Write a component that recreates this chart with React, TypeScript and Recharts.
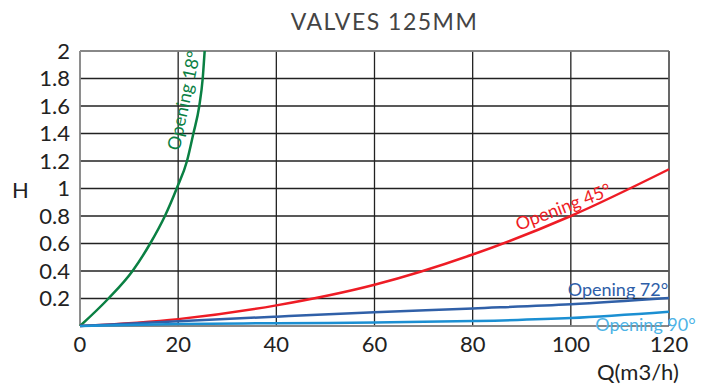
import { LineChart, Line, XAxis, YAxis, CartesianGrid, ReferenceDot, ReferenceLine } from "recharts";

const flowTicks = [0, 20, 40, 60, 80, 100, 120];
const headTicks = [0, 0.2, 0.4, 0.6, 0.8, 1, 1.2, 1.4, 1.6, 1.8, 2];

const q18 = [0, 5.8, 10.7, 14.3, 17.3, 19.7, 21.8, 23.1, 24.3, 25.0, 25.4];
const h18 = [0, 0.2, 0.4, 0.6, 0.8, 1.0, 1.2, 1.4, 1.6, 1.8, 2.0];

const qCommon = [0, 20, 40, 60, 80, 100, 120];
const h45 = [0, 0.05, 0.15, 0.3, 0.52, 0.8, 1.14];
const h72 = [0, 0.035, 0.068, 0.1, 0.128, 0.158, 0.204];
const h90 = [0, 0.015, 0.02, 0.025, 0.036, 0.058, 0.104];

const toPts = (qs: number[], hs: number[]) => qs.map((q, i) => ({ q, h: hs[i] }));

const FONT = "Lato, 'Open Sans', sans-serif";

function RotLabel({ viewBox, text, color, angle }: any) {
  const x = viewBox.x + (viewBox.width || 0) / 2;
  const y = viewBox.y + (viewBox.height || 0) / 2;
  return (
    <text x={x} y={y} fill={color} fontSize={18} fontFamily={FONT} textAnchor="middle" dominantBaseline="central" transform={`rotate(${angle} ${x} ${y})`}>
      {text}
    </text>
  );
}

export default function App() {
  return (
    <div style={{ position: "fixed", left: 0, top: 0, width: 701, height: 392, background: "#fff" }}>
      <div style={{ position: "absolute", left: 34, width: 701, top: 7, textAlign: "center", fontFamily: FONT, fontSize: 23, color: "#444", letterSpacing: 1.5 }}>
        VALVES 125MM
      </div>
      <div style={{ position: "absolute", left: 12, top: 176, fontFamily: FONT, fontSize: 22, color: "#222" }}>H</div>
      <div style={{ position: "absolute", left: 597, top: 358, fontFamily: FONT, fontSize: 22, color: "#222" }}>Q(m3/h)</div>
      <LineChart width={701} height={392} margin={{ top: 51, right: 32, bottom: 36, left: 0 }}>
        <CartesianGrid stroke="#222" strokeWidth={1.3} />
        <XAxis type="number" dataKey="q" domain={[0, 120]} ticks={flowTicks} interval={0} axisLine={false} tickLine={false} height={30}
          tick={{ fill: "#222", fontSize: 22, fontFamily: FONT }} tickMargin={4} allowDuplicatedCategory={false} />
        <YAxis type="number" dataKey="h" domain={[0, 2]} ticks={headTicks} interval={0} axisLine={false} tickLine={false} width={80}
          tickFormatter={(v: number) => (v === 0 ? "" : String(v))} tick={{ fill: "#222", fontSize: 22, fontFamily: FONT }} tickMargin={4} />
        <ReferenceLine x={0} stroke="#999" strokeWidth={1.5} />
        <ReferenceLine y={2} stroke="#999" strokeWidth={1.5} />
        <ReferenceLine y={0} stroke="#999" strokeWidth={1.5} />
        <ReferenceLine x={120} stroke="#666" strokeWidth={1.5} />
        <Line data={toPts(q18, h18)} dataKey="h" type="monotone" stroke="#0a8043" strokeWidth={2.5} dot={false} isAnimationActive={false} />
        <Line data={toPts(qCommon, h45)} dataKey="h" type="monotone" stroke="#ee1c25" strokeWidth={2.5} dot={false} isAnimationActive={false} />
        <Line data={toPts(qCommon, h72)} dataKey="h" type="monotone" stroke="#3060a8" strokeWidth={2.5} dot={false} isAnimationActive={false} />
        <Line data={toPts(qCommon, h90)} dataKey="h" type="monotone" stroke="#1b8fd2" strokeWidth={2.5} dot={false} isAnimationActive={false} />
        <ReferenceDot x={21} y={1.64} r={0} ifOverflow="visible" label={(p: any) => <RotLabel {...p} text="Opening 18°" color="#0a8043" angle={-78} />} />
        <ReferenceDot x={98.4} y={0.87} r={0} ifOverflow="visible" label={(p: any) => <RotLabel {...p} text="Opening 45°" color="#ee1c25" angle={-21} />} />
        <ReferenceDot x={109.6} y={0.27} r={0} ifOverflow="visible" label={(p: any) => <RotLabel {...p} text="Opening 72°" color="#2e5ea8" angle={0} />} />
        <ReferenceDot x={115.2} y={0.015} r={0} ifOverflow="visible" label={(p: any) => <RotLabel {...p} text="Opening 90°" color="#4db3e6" angle={0} />} />
      </LineChart>
    </div>
  );
}
